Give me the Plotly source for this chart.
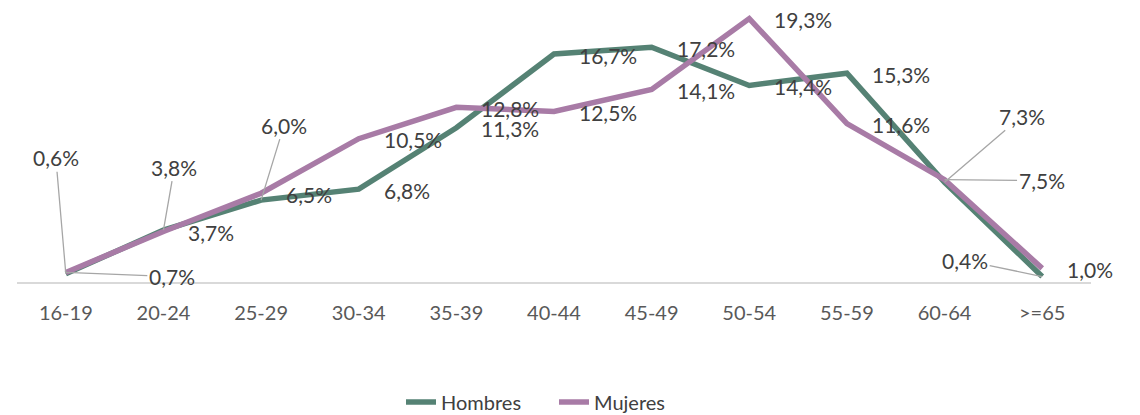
import plotly.graph_objects as go

categories = ["16-19", "20-24", "25-29", "30-34", "35-39", "40-44",
              "45-49", "50-54", "55-59", "60-64", ">=65"]
hombres = [0.6, 3.8, 6.0, 6.8, 11.3, 16.7, 17.2, 14.4, 15.3, 7.3, 0.4]
mujeres = [0.7, 3.7, 6.5, 10.5, 12.8, 12.5, 14.1, 19.3, 11.6, 7.5, 1.0]

GREEN = "#558274"
PINK = "#a87ba6"
TEXT = "#404040"
FONT = "Lato, Liberation Sans, sans-serif"


def pct(v):
    return f"{v:.1f}".replace(".", ",") + "%"


fig = go.Figure()
fig.add_trace(go.Scatter(x=categories, y=hombres, name="Hombres", mode="lines",
                         line=dict(color=GREEN, width=5.5)))
fig.add_trace(go.Scatter(x=categories, y=mujeres, name="Mujeres", mode="lines",
                         line=dict(color=PINK, width=5.5)))

# labels with leader lines: (series, index) -> pixel offset of the label
leaders = {
    ("h", 0): (-10, -116),
    ("h", 1): (11, -63),
    ("h", 2): (23, -75),
    ("h", 9): (77, -66),
    ("h", 10): (-77, -16),
    ("m", 0): (106, 4),
    ("m", 9): (97, 1),
}

annotations = []
for key, vals in (("h", hombres), ("m", mujeres)):
    for i, v in enumerate(vals):
        common = dict(x=categories[i], y=v, xref="x", yref="y", text=pct(v),
                      font=dict(family=FONT, size=21, color=TEXT))
        if (key, i) in leaders:
            ax, ay = leaders[(key, i)]
            annotations.append(dict(common, showarrow=True, arrowhead=0,
                                    arrowwidth=1.3, arrowcolor="#a6a6a6",
                                    ax=ax, ay=ay, standoff=0))
        else:
            annotations.append(dict(common, showarrow=False, xanchor="left",
                                    xshift=23, yshift=-1))

fig.update_layout(
    width=1140,
    height=415,
    paper_bgcolor="white",
    plot_bgcolor="white",
    margin=dict(l=17, r=49, t=9, b=133, autoexpand=False),
    font=dict(family=FONT, size=20, color=TEXT),
    showlegend=True,
    legend=dict(orientation="h", x=0.5, xanchor="center", y=-0.44, yanchor="middle",
                entrywidth=108, font=dict(size=20, color=TEXT)),
    annotations=annotations,
)
fig.update_xaxes(showgrid=False, showline=True, linecolor="#d9d9d9", linewidth=1.5,
                 ticks="", tickfont=dict(size=20, color="#595959"),
                 ticklabelstandoff=12, range=[-0.5, 10.5])
fig.update_yaxes(range=[0, 20], showgrid=False, showticklabels=False,
                 zeroline=False, showline=False)

fig.write_html("out.html", config={"displayModeBar": False},
               post_script="document.body.style.margin='0';")
